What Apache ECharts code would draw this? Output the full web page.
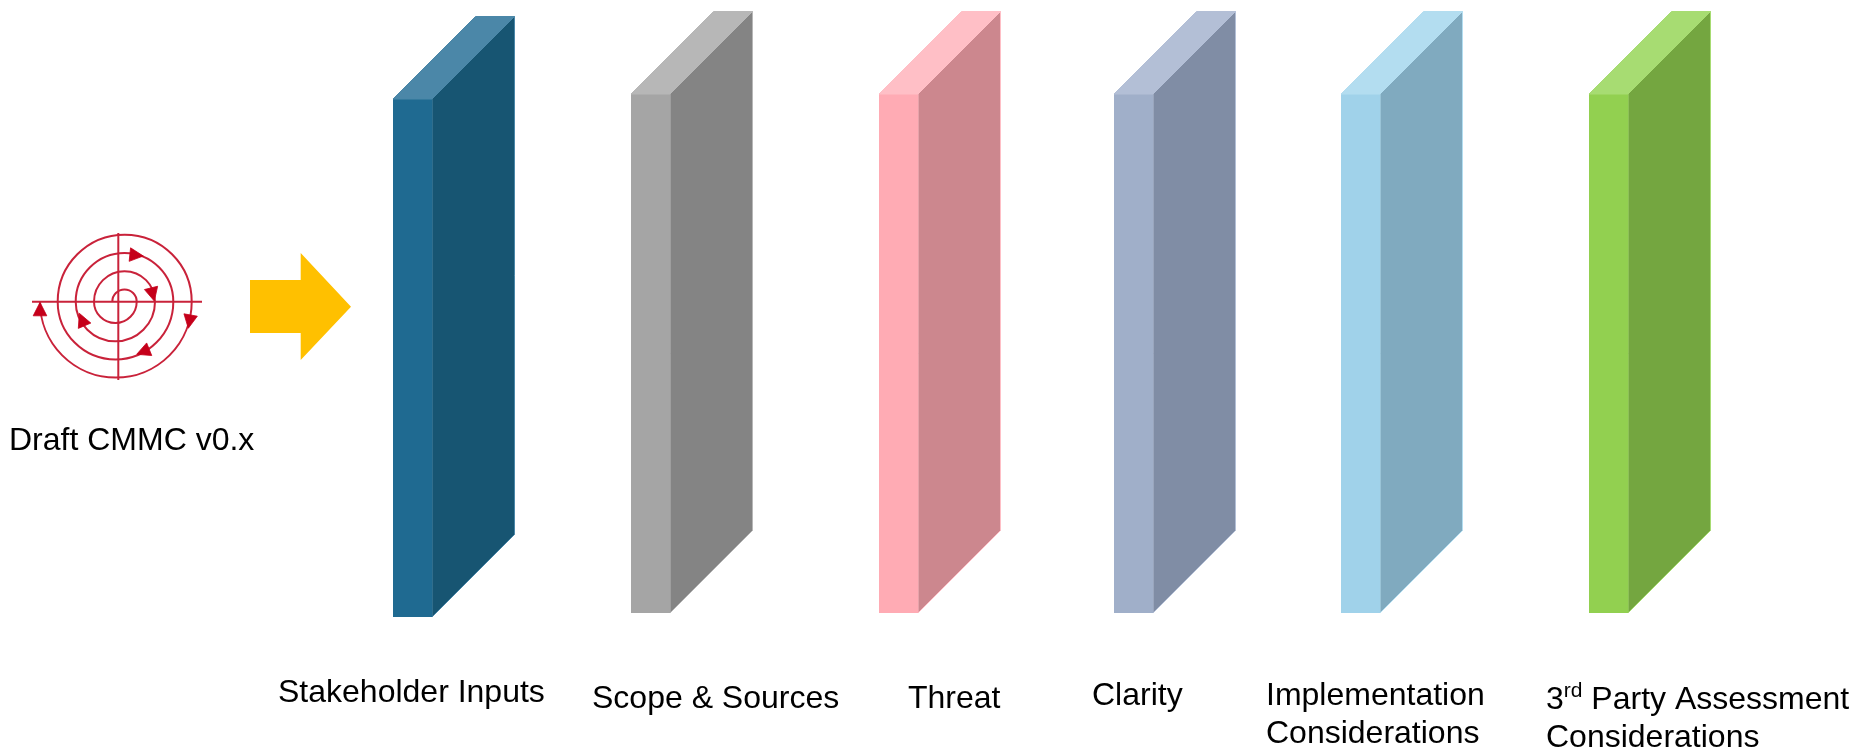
<!DOCTYPE html>
<html>
<head>
<meta charset="utf-8">
<title>CMMC review layers</title>
<script src="https://cdn.jsdelivr.net/npm/echarts@6/dist/echarts.min.js"></script>
<style>
  html, body { margin: 0; padding: 0; background: #fff; }
  #chart { width: 1854px; height: 749px; }
</style>
</head>
<body>
<div id="chart"></div>
<script>
// Review layers, left to right
const layerNames = ['Stakeholder Inputs', 'Scope & Sources', 'Threat', 'Clarity',
  'Implementation\nConsiderations',
  '{base|3}{sup|rd}{base| Party Assessment}\nConsiderations'];
const layerStart = [393, 631, 879, 1114, 1341, 1589];
const layerTop = [99, 94, 94, 94, 94, 94];
const layerBottom = [617, 613, 613, 613, 613, 613];
const labelX = [278, 592, 908, 1092, 1266, 1546];
const labelY = [674, 680, 680, 677, 677, 681];

// Face colours of each layer
const frontColors = ['#1F6A91', '#A5A5A5', '#FFABB4', '#A0AFC9', '#A0D2EA', '#92D050'];
const sideColors = ['#175572', '#848484', '#CC878E', '#808DA5', '#80AABF', '#74A640'];
const topColors = ['#4B87A8', '#B7B7B7', '#FFBFC6', '#B3BFD6', '#B3DDF0', '#A7DC72'];

const faceWidth = 39;
const faceDepth = 82.5;

// Spiral icon: where the half turns cross the horizontal line, and its arrowheads
const spiralCrossings = [112.3, 136.7, 94, 155, 75.7, 173.3, 57.7, 191.7, 40];
const spiralArrowX = [143.3, 154.3, 188.3, 136.7, 79.3, 40];
const spiralArrowY = [256, 301, 328.3, 354.3, 313.3, 302.3];
const spiralArrowDeg = [6, 76, 100, 158, 247, 270];
const iconCenter = [118.3, 301.7];

// Block arrow outline between the icon and the layers
const arrowX = [250, 300.7, 300.7, 351, 300.7, 300.7, 250];
const arrowY = [280, 280, 253, 306.7, 360, 333, 333];

const captionText = 'Draft CMMC v0.x';
const captionPos = [9, 422];

const RED_LINE = '#C9223A';
const RED_HEAD = '#C5001A';
const FONT = '"Liberation Sans", Arial, sans-serif';

const chart = echarts.init(document.getElementById('chart'), null, { renderer: 'canvas' });

function renderLayer(params, api) {
  const i = params.dataIndex;
  const x = api.value(0), top = api.value(1), bottom = api.value(2);
  const pt = (a, b) => api.coord([a, b]);
  const edge = { stroke: topColors[i], lineWidth: 1 };
  return {
    type: 'group',
    children: [
      { type: 'polygon',
        shape: { points: [pt(x + faceWidth, top), pt(x + faceWidth + faceDepth, top - faceDepth),
                          pt(x + faceWidth + faceDepth, bottom - faceDepth), pt(x + faceWidth, bottom)] },
        style: Object.assign({ fill: sideColors[i] }, edge) },
      { type: 'rect',
        shape: { x: pt(x, top)[0], y: pt(x, top)[1], width: faceWidth, height: bottom - top },
        style: { fill: frontColors[i] } },
      { type: 'polygon',
        shape: { points: [pt(x, top), pt(x + faceDepth, top - faceDepth),
                          pt(x + faceDepth + faceWidth, top - faceDepth), pt(x + faceWidth, top)] },
        style: Object.assign({ fill: topColors[i] }, edge) }
    ]
  };
}

function renderLayerLabel(params, api) {
  const p = api.coord([api.value(0), api.value(1)]);
  return {
    type: 'text', x: p[0], y: p[1],
    style: {
      text: layerNames[params.dataIndex],
      fontFamily: FONT, fontSize: 32, lineHeight: 38, fill: '#000',
      align: 'left', verticalAlign: 'top',
      rich: {
        base: { fontFamily: FONT, fontSize: 32, lineHeight: 38, fill: '#000' },
        sup: { fontFamily: FONT, fontSize: 21, lineHeight: 38, fill: '#000', verticalAlign: 'top' }
      }
    }
  };
}

function renderSpiralTurn(params, api) {
  const a = api.value(0), b = api.value(1);
  const c = api.coord([(a + b) / 2, iconCenter[1]]);
  const r = api.size([Math.abs(b - a) / 2, 0])[0];
  const overTop = params.dataIndex % 2 === 0;
  return {
    type: 'arc',
    shape: { cx: c[0], cy: c[1], r: r,
             startAngle: overTop ? Math.PI : 0, endAngle: overTop ? 2 * Math.PI : Math.PI, clockwise: true },
    style: { fill: null, stroke: RED_LINE, lineWidth: 2 }
  };
}

function renderSpiralHead(params, api) {
  const tip = api.coord([api.value(0), api.value(1)]);
  const t = api.value(2) * Math.PI / 180;
  const len = 13.5, half = 6.8;
  const bx = tip[0] - Math.cos(t) * len, by = tip[1] - Math.sin(t) * len;
  return {
    type: 'polygon',
    shape: { points: [tip,
      [bx - Math.sin(t) * half, by + Math.cos(t) * half],
      [bx + Math.sin(t) * half, by - Math.cos(t) * half]] },
    style: { fill: RED_HEAD, stroke: RED_HEAD, lineWidth: 0.8 }
  };
}

const xyCustom = { coordinateSystem: 'cartesian2d', type: 'custom', clip: false, silent: true };

chart.setOption({
  animation: false,
  backgroundColor: '#fff',
  grid: { left: 0, right: 0, top: 0, bottom: 0 },
  xAxis: { type: 'value', min: 0, max: 1854, show: false },
  yAxis: { type: 'value', min: 0, max: 749, inverse: true, show: false },
  series: [
    Object.assign({}, xyCustom, { name: 'Layers', renderItem: renderLayer,
      data: layerStart.map((x, i) => [x, layerTop[i], layerBottom[i]]) }),
    Object.assign({}, xyCustom, { name: 'Layer labels', renderItem: renderLayerLabel,
      data: labelX.map((x, i) => [x, labelY[i]]) }),
    Object.assign({}, xyCustom, { name: 'Spiral', renderItem: renderSpiralTurn,
      data: spiralCrossings.slice(1).map((x, i) => [spiralCrossings[i], x]) }),
    { type: 'line', name: 'Icon horizontal', silent: true, symbol: 'none', animation: false,
      lineStyle: { color: RED_LINE, width: 2 },
      data: [[32, iconCenter[1]], [202, iconCenter[1]]] },
    { type: 'line', name: 'Icon vertical', silent: true, symbol: 'none', animation: false,
      lineStyle: { color: RED_LINE, width: 2 },
      data: [[iconCenter[0], 233], [iconCenter[0], 380]] },
    Object.assign({}, xyCustom, { name: 'Spiral heads', renderItem: renderSpiralHead,
      data: spiralArrowX.map((x, i) => [x, spiralArrowY[i], spiralArrowDeg[i]]) }),
    Object.assign({}, xyCustom, { name: 'Block arrow',
      renderItem: (params, api) => ({
        type: 'polygon',
        shape: { points: arrowX.map((x, i) => api.coord([x, arrowY[i]])) },
        style: { fill: '#FFC000' }
      }),
      data: [[arrowX[0], arrowY[0]]] }),
    Object.assign({}, xyCustom, { name: 'Caption',
      renderItem: (params, api) => {
        const p = api.coord([api.value(0), api.value(1)]);
        return { type: 'text', x: p[0], y: p[1],
          style: { text: captionText, fontFamily: FONT, fontSize: 32, lineHeight: 38, fill: '#000',
                   align: 'left', verticalAlign: 'top' } };
      },
      data: [captionPos] })
  ]
});
</script>
</body>
</html>
